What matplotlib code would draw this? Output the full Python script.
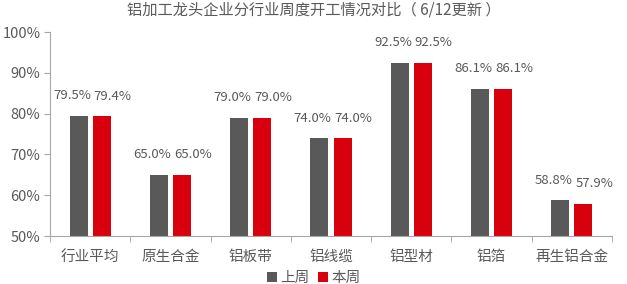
import numpy as np
from matplotlib import pyplot as plt

plt.rcParams['font.family'] = ['Noto Sans CJK SC', 'DejaVu Sans']

categories = ['行业平均', '原生合金', '铝板带', '铝线缆', '铝型材', '铝箔', '再生铝合金']
last_week = [79.5, 65.0, 79.0, 74.0, 92.5, 86.1, 58.8]
this_week = [79.4, 65.0, 79.0, 74.0, 92.5, 86.1, 57.9]
series_names = ['上周', '本周']

grey = '#595959'
red = '#D9000D'
axis_col = '#A6A6A6'
text_col = '#595959'

fig = plt.figure(figsize=(6.27, 2.84), dpi=100)
ax = fig.add_axes([0.08, 0.169, 0.896, 0.718])

x = np.arange(len(categories))
w = 0.225
off = 0.145
ax.bar(x - off, last_week, w, color=grey, label=series_names[0], zorder=2)
ax.bar(x + off, this_week, w, color=red, label=series_names[1], zorder=2)

for i in range(len(categories)):
    ax.text(x[i] - 0.23, last_week[i] + 3.3, '{:.1f}%'.format(last_week[i]),
            ha='center', va='bottom', fontsize=9.5, color=text_col)
    ax.text(x[i] + 0.28, this_week[i] + 3.3, '{:.1f}%'.format(this_week[i]),
            ha='center', va='bottom', fontsize=9.5, color=text_col)

ax.set_ylim(50, 100)
ax.set_xlim(-0.5, len(categories) - 0.5)
ax.set_yticks(np.arange(50, 101, 10))
ax.set_yticklabels(['{:d}%'.format(v) for v in range(50, 101, 10)])
ax.set_xticks(x)
ax.set_xticklabels(categories)
ax.set_xticks(np.arange(-0.5, len(categories), 1), minor=True)
ax.tick_params(axis='x', which='major', length=0, pad=10, labelsize=10.5, colors=text_col)
ax.tick_params(axis='x', which='minor', length=4, color=axis_col)
ax.tick_params(axis='y', length=4, color=axis_col, labelsize=10.5, labelcolor=text_col, pad=3)

for s in ['top', 'right']:
    ax.spines[s].set_visible(False)
for s in ['left', 'bottom']:
    ax.spines[s].set_color(axis_col)

fig.suptitle('铝加工龙头企业分行业周度开工情况对比（ 6/12更新 ）', x=0.5, y=0.995,
             fontsize=11, color=text_col)

fig.legend(loc='lower center', bbox_to_anchor=(0.5, -0.05), ncol=2, frameon=False,
           fontsize=10.5, handlelength=0.7, handleheight=0.7, handletextpad=0.2,
           columnspacing=0.6, labelcolor=text_col)

fig.savefig('out.png', dpi=100)
